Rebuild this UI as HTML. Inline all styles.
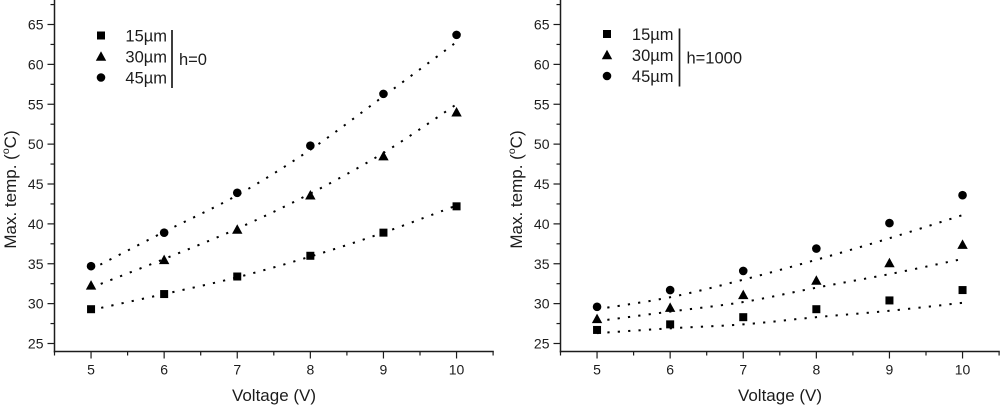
<!DOCTYPE html>
<html>
<head>
<meta charset="utf-8">
<style>
html,body{margin:0;padding:0;background:#fff;width:1000px;height:405px;overflow:hidden}
svg{display:block}
text{font-family:"Liberation Sans",sans-serif;fill:#1c1c1c}
.tick{font-size:14px}
.title{font-size:17px}
.leg{font-size:16.5px}
</style>
</head>
<body>
<svg id="chart" width="1000" height="405" viewBox="0 0 1000 405" xmlns="http://www.w3.org/2000/svg"></svg>
<script>
var voltages = [5, 6, 7, 8, 9, 10];
var xTickLabels = ["5", "6", "7", "8", "9", "10"];
var yTickLabels = ["25", "30", "35", "40", "45", "50", "55", "60", "65"];
var seriesNames = ["15µm", "30µm", "45µm"];

var left15 = [29.3, 31.2, 33.4, 36.0, 38.9, 42.2];
var left30 = [32.3, 35.5, 39.3, 43.6, 48.5, 54.0];
var left45 = [34.7, 38.9, 43.9, 49.8, 56.3, 63.7];
var leftFit15 = [29.2, 31.2, 33.3, 35.9, 38.9, 42.3];
var leftFit30 = [32.0, 35.6, 39.4, 43.8, 48.9, 55.0];
var leftFit45 = [34.3, 39.0, 43.6, 49.3, 56.0, 62.8];

var right15 = [26.7, 27.4, 28.3, 29.3, 30.4, 31.7];
var right30 = [28.1, 29.5, 31.1, 32.9, 35.1, 37.4];
var right45 = [29.6, 31.7, 34.1, 36.9, 40.1, 43.6];
var rightFit15 = [26.3, 26.9, 27.4, 28.3, 29.1, 30.1];
var rightFit30 = [27.8, 29.0, 30.2, 32.0, 33.7, 35.6];
var rightFit45 = [29.3, 30.8, 33.0, 35.5, 38.2, 41.1];

var NS = "http://www.w3.org/2000/svg";
var svg = document.getElementById("chart");
var INK = "#1c1c1c";

function make(tag, attrs, text) {
  var el = document.createElementNS(NS, tag);
  for (var k in attrs) el.setAttribute(k, attrs[k]);
  if (text !== undefined) el.textContent = text;
  svg.appendChild(el);
  return el;
}
function yScale(v) { return 24.5 + (65 - v) * 7.975; }

function marker(kind, cx, cy) {
  var el;
  if (kind === 0) {
    el = make("rect", {x: cx - 4, y: cy - 4, width: 8, height: 8, fill: "#000"});
  } else if (kind === 1) {
    el = make("polygon", {points: (cx - 5.2) + "," + (cy + 4.3) + " " + (cx + 5.2) + "," + (cy + 4.3) + " " + cx + "," + (cy - 5.2), fill: "#000"});
  } else {
    el = make("circle", {cx: cx, cy: cy, r: 4.3, fill: "#000"});
  }
  return el;
}

function smoothPath(xs, ys) {
  var d = "M" + xs[0] + " " + ys[0];
  for (var i = 0; i < xs.length - 1; i++) {
    var x0 = xs[Math.max(i - 1, 0)], y0 = ys[Math.max(i - 1, 0)];
    var x1 = xs[i], y1 = ys[i], x2 = xs[i + 1], y2 = ys[i + 1];
    var x3 = xs[Math.min(i + 2, xs.length - 1)], y3 = ys[Math.min(i + 2, xs.length - 1)];
    d += " C" + (x1 + (x2 - x0) / 6) + " " + (y1 + (y2 - y0) / 6) + " " +
         (x2 - (x3 - x1) / 6) + " " + (y2 - (y3 - y1) / 6) + " " + x2 + " " + y2;
  }
  return d;
}

function drawPanel(axisX, seriesList, fitList, legendMarkerX, legendLabelX, legendTop, barX, hLabel, titleX, xTitleX) {
  function xScale(v) { return axisX + (v - 4.5) * 73.1; }
  var axisY = 351.5;

  var yAxis = make("line", {x1: axisX, y1: 0, x2: axisX, y2: axisY + 1, stroke: INK, "stroke-width": 1.5});
  
  

  var xAxis = make("line", {x1: axisX - 0.7, y1: axisY, x2: xScale(10.5) + 0.7, y2: axisY, stroke: INK, "stroke-width": 1.5});
  
  

  yTickLabels.forEach(function (lab) {
    var v = parseFloat(lab), y = yScale(v);
    var t = make("line", {x1: axisX - 7, y1: y, x2: axisX, y2: y, stroke: INK, "stroke-width": 1.2});
    
    
    var m = make("line", {x1: axisX - 4, y1: yScale(v + 2.5), x2: axisX, y2: yScale(v + 2.5), stroke: INK, "stroke-width": 1.2});
    
    
    var l = make("text", {class: "tick", x: axisX - 11, y: y + 5, "text-anchor": "end"}, lab);
    
    
  });

  xTickLabels.forEach(function (lab, i) {
    var v = voltages[i], x = xScale(v);
    var t = make("line", {x1: x, y1: axisY, x2: x, y2: axisY + 7, stroke: INK, "stroke-width": 1.2});
    
    
    var m = make("line", {x1: x - 36.55, y1: axisY, x2: x - 36.55, y2: axisY + 4, stroke: INK, "stroke-width": 1.2});
    
    
    var l = make("text", {class: "tick", x: x, y: 374.5, "text-anchor": "middle"}, lab);
    
    
  });
  var endTick = make("line", {x1: xScale(10.5), y1: axisY, x2: xScale(10.5), y2: axisY + 4, stroke: INK, "stroke-width": 1.2});
  
  

  var xTitle = make("text", {class: "title", x: xTitleX, y: 401, "text-anchor": "middle"}, "Voltage (V)");
  
  

  var yTitle = make("text", {class: "title", x: 0, y: 0, "text-anchor": "middle", transform: "translate(" + titleX + ",189.5) rotate(-90)"});
  
  
  var s1 = document.createElementNS(NS, "tspan");
  s1.textContent = "Max. temp. (";
  yTitle.appendChild(s1);
  var s2 = document.createElementNS(NS, "tspan");
  s2.setAttribute("dy", "-7");
  s2.setAttribute("font-size", "10.5");
  s2.textContent = "o";
  yTitle.appendChild(s2);
  var s3 = document.createElementNS(NS, "tspan");
  s3.setAttribute("dy", "7");
  s3.textContent = "C)";
  yTitle.appendChild(s3);

  fitList.forEach(function (fit) {
    var xs = voltages.map(xScale);
    var ys = fit.map(yScale);
    var p = make("path", {d: smoothPath(xs, ys), fill: "none", stroke: "#000", "stroke-width": 2, "stroke-dasharray": "2.2 8.2"});
    
    
  });

  seriesList.forEach(function (vals, s) {
    vals.forEach(function (v, i) {
      var mk = marker(s, xScale(voltages[i]), yScale(v));
      
      
    });
    var ly = legendTop + s * 21;
    var lm = marker(s, legendMarkerX, ly);
    
    
    var lt = make("text", {class: "leg", x: legendLabelX, y: ly + 6, "text-anchor": "end"}, seriesNames[s]);
    
    
  });

  var bar = make("line", {x1: barX, y1: legendTop - 5.5, x2: barX, y2: legendTop + 52.5, stroke: INK, "stroke-width": 1.7});
  
  
  var h = make("text", {class: "leg", x: barX + 7, y: legendTop + 29.5}, hLabel);
  
  
}

drawPanel(54.5, [left15, left30, left45], [leftFit15, leftFit30, leftFit45], 101, 167, 35.5, 172, "h=0", 16, 274);
drawPanel(560.5, [right15, right30, right45], [rightFit15, rightFit30, rightFit45], 607, 673.5, 34, 679.5, "h=1000", 522, 780);
</script>
</body>
</html>
